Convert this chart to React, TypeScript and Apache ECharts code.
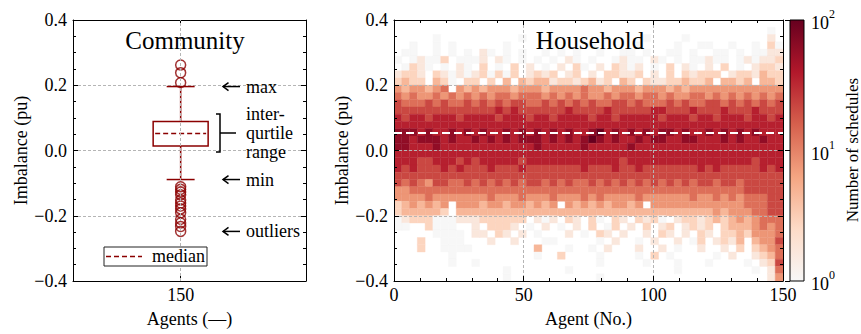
import React, { useEffect, useRef } from 'react';
import * as echarts from 'echarts';

const FONT = "'Liberation Serif', 'Times New Roman', serif";
const RED = '#8b0000';
const GRID_COLOR = '#b5b5b5';
const CMAP = ['#f7f7f7', '#fddbc7', '#f4a582', '#d6604d', '#b2182b', '#67001f'];

// ---------- Community (box plot) ----------
const boxCategory = ['150'];
const BOX_X = 0.462; // where the single category sits on the panel's x range
const boxStats = [-0.089, 0.014, 0.052, 0.089, 0.196]; // min, Q1, median, Q3, max
const outliersHigh = [0.208, 0.238, 0.262];
const outliersLow = [-0.111, -0.119, -0.127, -0.136, -0.152, -0.161, -0.17, -0.179, -0.191, -0.211, -0.222, -0.233, -0.248];

// ---------- Household (2D histogram) ----------
const AGENT_BIN = 3;
const Y_MIN = -0.4;
const Y_MAX = 0.4;
const householdMedian = 0.054;
// rows top -> bottom, 50 agent bins each; '.' = no schedule, digit L => log10(count) = L / 4.5
const heatLevels = [
  '.......... .......... .......... .......... ..........',
  '.......... .......... .......... .......... ........0.',
  '.....0.... ......0... .......... ..0....0.. ........1.',
  '..0..0.0.. ....0..... 0....0.... .0....0..0 0..0..0.20',
  '.00..0.0.0 .10.0.0..0 .0.0..0..0 0.0..00.0. .00.0.0011',
  '0.01002.00 01.10.0.0. 0.10.0..01 00.10.0.00 100.010112',
  '.0210.0.10 .2.0.2.1.0 .1.20.1.21 01.0.2.10. 1.2.0.1221',
  '1221.21010 120202.121 2.12.1.221 12.1.2.212 22.1221322',
  '2322.320.2 2.2.3.3233 12212312.3 2.21122322 3.3323.332',
  '4344345.43 4344434443 4444544344 4344434344 4444444444',
  '5454454545 4545545554 5454544545 5455454455 4545454545',
  '6555656556 5656566556 5656565566 5655565655 6656565656',
  '6666666666 6667676666 6676666766 6667766676 6676667666',
  '7677677767 7776777677 6777767767 7777677767 7677767767',
  '7777777777 7777777777 7777777777 7777777777 7777777777',
  '8887877878 7877878787 8787789787 8787887877 8787878777',
  '8878887877 8787878887 8787898787 7878877887 7787877877',
  '8877787777 7777777787 7777877777 8777777777 7777777777',
  '7777777777 7777777777 7777777777 7777777777 7777777777',
  '7776677767 6777776777 7777777776 7777777777 7777776777',
  '7676667676 6676667666 6666766676 6766666667 6766666767',
  '6666666666 6666666666 6666666666 6666666666 6666666666',
  '6565466556 5656565665 6565565656 5656565656 6566566666',
  '4455555555 5555555555 5555555555 5555555555 5555566666',
  '4444544444 4454445444 5444545444 4544444454 4545455566',
  '2343434.44 4344344343 4.43434344 34.4444444 4444455566',
  '2333332.33 3333333333 3333333333 3333333333 3434445566',
  '0122200011 1222222.10 1.21.20.21 .2120.1221 2323434555',
  '00..2000.. 1.2221.0.1 .0.1.2.02. 1.2.12.121 2.23334545',
  '.....0000. 11.21.1.0. ..1.0.21.1 ..1.21.1.2 1.22324445',
  '...2..000. ..1..1...0 0.....0.1. .0.1..1.02 .1213.3446',
  '...2..0000 ........3. ..0..0.1.. .1..1.0..1 ..1.2.2345',
  '.......0.. ........0. .2....0... .0.2.0.... .0.1..1235',
  '.......0.. 0......... ......0... ..0...0... 0....0.126',
  '.......... ....0..... ..0....... ......0... ......0.15',
  '.......... ....0..... ......0... .......... ........14',
];
const agentTicks = [0, 50, 100, 150];
const cbarMajorLog = [0, 1, 2];
const cbarMinorCounts = [2, 3, 4, 5, 6, 7, 8, 9, 20, 30, 40, 50, 60, 70, 80, 90];

const binH = (Y_MAX - Y_MIN) / heatLevels.length;
const heatData: number[][] = [];
heatLevels.forEach((row, r) => {
  const cells = row.replace(/\s/g, '');
  for (let c = 0; c < cells.length; c++) {
    const ch = cells[c];
    if (ch === '.') continue;
    heatData.push([c * AGENT_BIN, Y_MAX - (r + 1) * binH, Number(ch) / 4.5]);
  }
});
const AGENT_MAX = agentTicks[agentTicks.length - 1];

const fmtY = (v: number) => (v < 0 ? '\u2212' + Math.abs(v).toFixed(1) : v.toFixed(1));

const lineBlack = { color: '#000', width: 1 };
const labelStyle = { fontFamily: FONT, fontSize: 18, color: '#000' };
const nameStyle = { fontFamily: FONT, fontSize: 18, color: '#000' };
const splitDashed = { show: true, lineStyle: { color: GRID_COLOR, width: 1, type: [3, 2] as any } };

function yAxisPair(gridIndex: number, name: string, nameGap: number, z: number) {
  const common = {
    gridIndex, type: 'value', min: Y_MIN, max: Y_MAX, interval: 0.2, z,
    axisLine: { show: true, onZero: false, lineStyle: lineBlack },
    axisTick: { show: true, inside: true, length: 5, lineStyle: lineBlack },
    minorTick: { show: true, splitNumber: 4, length: 3, lineStyle: lineBlack },
  };
  return [
    {
      ...common, position: 'left',
      axisLabel: { ...labelStyle, margin: 6, formatter: fmtY },
      splitLine: splitDashed,
      name, nameLocation: 'middle', nameGap, nameRotate: 90, nameTextStyle: nameStyle,
    },
    { ...common, position: 'right', axisLabel: { show: false }, splitLine: { show: false } },
  ];
}

const option: any = {
  animation: false,
  textStyle: { fontFamily: FONT },
  grid: [
    { left: 73, top: 20, width: 233, height: 261 },
    { left: 394, top: 20, width: 389, height: 261 },
    { left: 790, top: 20, width: 14, height: 261 },
  ],
  xAxis: [
    {
      gridIndex: 0, type: 'value', min: 0, max: 1, position: 'bottom',
      axisLine: { show: true, onZero: false, lineStyle: lineBlack },
      axisTick: { show: true, inside: true, length: 5, customValues: [BOX_X], lineStyle: lineBlack },
      axisLabel: { ...labelStyle, margin: 5, customValues: [BOX_X], formatter: () => boxCategory[0] },
      splitLine: { show: false },
      name: 'Agents (\u2014)', nameLocation: 'middle', nameGap: 29, nameTextStyle: nameStyle,
    },
    {
      gridIndex: 0, type: 'value', min: 0, max: 1, position: 'top',
      axisLine: { show: true, onZero: false, lineStyle: lineBlack },
      axisTick: { show: true, inside: true, length: 5, customValues: [BOX_X], lineStyle: lineBlack },
      axisLabel: { show: false }, splitLine: { show: false },
    },
    {
      gridIndex: 1, type: 'value', min: 0, max: AGENT_MAX, interval: 50, position: 'bottom', z: 4,
      axisLine: { show: true, onZero: false, lineStyle: lineBlack },
      axisTick: { show: true, inside: true, length: 5, lineStyle: lineBlack },
      minorTick: { show: true, splitNumber: 5, length: 3, lineStyle: lineBlack },
      axisLabel: { ...labelStyle, margin: 5 },
      splitLine: splitDashed,
      name: 'Agent (No.)', nameLocation: 'middle', nameGap: 29, nameTextStyle: nameStyle,
    },
    {
      gridIndex: 1, type: 'value', min: 0, max: AGENT_MAX, interval: 50, position: 'top', z: 4,
      axisLine: { show: true, onZero: false, lineStyle: lineBlack },
      axisTick: { show: true, inside: true, length: 5, lineStyle: lineBlack },
      minorTick: { show: true, splitNumber: 5, length: 3, lineStyle: lineBlack },
      axisLabel: { show: false }, splitLine: { show: false },
    },
    { gridIndex: 2, type: 'value', min: 0, max: 1, show: false },
  ],
  yAxis: [
    ...yAxisPair(0, 'Imbalance (pu)', 43, 0),
    ...yAxisPair(1, 'Imbalance (pu)', 43, 4),
    {
      gridIndex: 2, type: 'value', min: 0, max: 2, interval: 1, position: 'right',
      axisLine: { show: false },
      axisTick: { show: true, inside: true, length: 5, lineStyle: lineBlack },
      axisLabel: {
        margin: 7,
        formatter: (v: number) => `{b|10}{s|${Math.round(v)}}`,
        rich: {
          b: { fontFamily: FONT, fontSize: 18, color: '#000', lineHeight: 24, verticalAlign: 'bottom' },
          s: { fontFamily: FONT, fontSize: 12, color: '#000', lineHeight: 12, verticalAlign: 'top' },
        },
      },
      splitLine: { show: false },
    },
    {
      gridIndex: 2, type: 'value', min: 0, max: 2, position: 'right',
      axisLine: { show: false },
      axisTick: { show: true, inside: true, length: 3, customValues: cbarMinorCounts.map((c) => Math.log10(c)), lineStyle: lineBlack },
      axisLabel: { show: false, customValues: cbarMinorCounts.map((c) => Math.log10(c)) },
      splitLine: { show: false },
    },
  ],
  visualMap: [
    { type: 'continuous', show: false, seriesIndex: 2, dimension: 2, min: cbarMajorLog[0], max: cbarMajorLog[2], inRange: { color: CMAP } },
  ],
  series: [
    {
      type: 'custom', xAxisIndex: 0, yAxisIndex: 0, z: 3,
      data: [[BOX_X, ...boxStats]],
      encode: { x: 0, y: [1, 2, 3, 4, 5] },
      renderItem: (params: any, api: any) => {
        const x = api.value(0);
        const pMin = api.coord([x, api.value(1)]);
        const pQ1 = api.coord([x, api.value(2)]);
        const pMed = api.coord([x, api.value(3)]);
        const pQ3 = api.coord([x, api.value(4)]);
        const pMax = api.coord([x, api.value(5)]);
        const hb = api.size([0.236, 0])[0] / 2;
        const hc = api.size([0.12, 0])[0] / 2;
        const cx = pMed[0];
        const st = { stroke: RED, lineWidth: 1.5, fill: 'none' };
        return {
          type: 'group',
          children: [
            { type: 'rect', shape: { x: cx - hb, y: pQ3[1], width: hb * 2, height: pQ1[1] - pQ3[1] }, style: st },
            { type: 'line', shape: { x1: cx, y1: pQ3[1], x2: cx, y2: pMax[1] }, style: st },
            { type: 'line', shape: { x1: cx, y1: pQ1[1], x2: cx, y2: pMin[1] }, style: st },
            { type: 'line', shape: { x1: cx - hc, y1: pMax[1], x2: cx + hc, y2: pMax[1] }, style: st },
            { type: 'line', shape: { x1: cx - hc, y1: pMin[1], x2: cx + hc, y2: pMin[1] }, style: st },
            { type: 'line', shape: { x1: cx - hb + 2, y1: pMed[1], x2: cx + hb - 2, y2: pMed[1] }, style: { ...st, lineDash: [5, 3] } },
          ],
        };
      },
    },
    {
      type: 'scatter', xAxisIndex: 0, yAxisIndex: 0, z: 3,
      symbol: 'circle', symbolSize: 10,
      itemStyle: { color: 'rgba(0,0,0,0)', borderColor: RED, borderWidth: 1.5 },
      data: [...outliersHigh, ...outliersLow].map((v) => [BOX_X, v]),
      markLine: {
        silent: true, symbol: 'none', label: { show: false },
        lineStyle: { color: GRID_COLOR, width: 1, type: [3, 2] },
        data: [{ xAxis: BOX_X }],
      },
    },
    {
      type: 'custom', xAxisIndex: 2, yAxisIndex: 2, z: 2, clip: true,
      data: heatData,
      encode: { x: 0, y: 1 },
      renderItem: (params: any, api: any) => {
        const x0 = api.value(0);
        const y0 = api.value(1);
        const p0 = api.coord([x0, y0 + binH]);
        const p1 = api.coord([x0 + AGENT_BIN, y0]);
        const color = api.visual('color');
        return {
          type: 'rect',
          shape: { x: p0[0], y: p0[1], width: p1[0] - p0[0], height: p1[1] - p0[1] },
          style: { fill: color, stroke: color, lineWidth: 0.4 },
        };
      },
    },
    {
      type: 'line', xAxisIndex: 2, yAxisIndex: 2, z: 10, symbol: 'none', silent: true,
      data: [[0, householdMedian], [AGENT_MAX, householdMedian]],
      lineStyle: { color: '#ffffff', width: 2, type: [8, 4] },
    },
    {
      type: 'custom', xAxisIndex: 4, yAxisIndex: 4, z: 2,
      data: [[0.5, 1]],
      renderItem: (params: any) => {
        const cs = params.coordSys;
        return {
          type: 'rect',
          shape: { x: cs.x, y: cs.y, width: cs.width, height: cs.height },
          style: {
            fill: new echarts.graphic.LinearGradient(0, 1, 0, 0, CMAP.map((c, i) => ({ offset: i / (CMAP.length - 1), color: c }))),
            stroke: '#000', lineWidth: 1,
          },
        };
      },
    },
  ],
};

export default function App() {
  const ref = useRef<HTMLDivElement>(null);
  useEffect(() => {
    document.body.style.margin = '0';
    const chart = echarts.init(ref.current!, null, { renderer: 'svg' });
    chart.setOption(option);
    const py = (v: number) => chart.convertToPixel({ yAxisIndex: 0 } as any, v) as unknown as number;
    const txt = (x: number, y: number, text: string, size = 18, align = 'left') => ({
      type: 'text', x, y, z: 100,
      style: { text, fill: '#000', font: `${size}px ${FONT}`, textAlign: align, textVerticalAlign: 'middle' },
    });
    const arrow = (y: number, label: string) => [
      { type: 'line', z: 100, shape: { x1: 223, y1: y, x2: 240, y2: y }, style: { stroke: '#000', lineWidth: 1.5 } },
      { type: 'polyline', z: 100, shape: { points: [[228.5, y - 4], [223, y], [228.5, y + 4]] }, style: { stroke: '#000', lineWidth: 1.5, fill: 'none' } },
      txt(246, y, label),
    ];
    const yMax = py(boxStats[4]);
    const yMin = py(boxStats[0]);
    const yOut = py(outliersLow[outliersLow.length - 1]);
    const bTop = 114, bBot = 152, bMid = 133;
    chart.setOption({
      graphic: [
        txt(185, 40, 'Community', 25, 'center'),
        txt(590, 40, 'Household', 25, 'center'),
        ...arrow(yMax, 'max'),
        ...arrow(yMin, 'min'),
        ...arrow(yOut, 'outliers'),
        { type: 'polyline', z: 100, shape: { points: [[216, bTop], [220, bTop], [220, bBot], [216, bBot]] }, style: { stroke: '#000', lineWidth: 1.5, fill: 'none' } },
        { type: 'line', z: 100, shape: { x1: 220, y1: bMid, x2: 236, y2: bMid }, style: { stroke: '#000', lineWidth: 1.5 } },
        txt(246, bTop, 'inter-'),
        txt(246, bMid, 'qurtile'),
        txt(246, bBot, 'range'),
        { type: 'rect', z: 100, shape: { x: 104, y: 247, width: 103, height: 19 }, style: { fill: '#fff', stroke: '#222', lineWidth: 1 } },
        { type: 'line', z: 101, shape: { x1: 106, y1: 256.5, x2: 142, y2: 256.5 }, style: { stroke: RED, lineWidth: 1.5, lineDash: [5, 3] } },
        txt(152, 256, 'median'),
        {
          type: 'text', x: 852, y: 150, rotation: Math.PI / 2, z: 100,
          style: { text: 'Number of schedules', fill: '#000', font: `17px ${FONT}`, textAlign: 'center', textVerticalAlign: 'middle' },
        },
      ],
    });
    return () => chart.dispose();
  }, []);
  return <div ref={ref} style={{ width: 861, height: 334 }} />;
}
